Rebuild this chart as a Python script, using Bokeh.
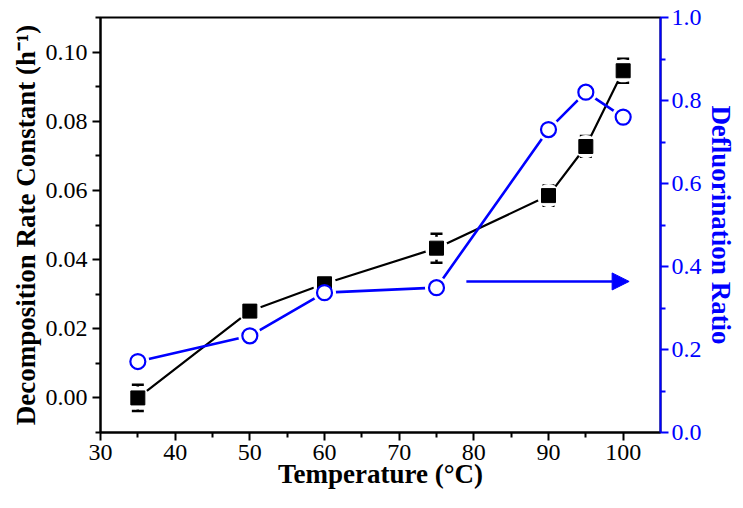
from bokeh.plotting import figure
from bokeh.models import (Range1d, LinearAxis, Whisker, ColumnDataSource, Arrow,
                          NormalHead, TeeHead, FixedTicker, NumeralTickFormatter)
from bokeh.embed import file_html
from bokeh.resources import INLINE

# ---- data ----
temperature = [35, 50, 60, 75, 90, 95, 100]
rate_constant = [0.0000, 0.0251, 0.0330, 0.0433, 0.0585, 0.0727, 0.0946]
rate_error = [0.0038, 0.0012, 0.0012, 0.0042, 0.0029, 0.0030, 0.0035]
defluorination = [0.171, 0.233, 0.337, 0.349, 0.730, 0.820, 0.760]

x_ticks = [30, 40, 50, 60, 70, 80, 90, 100]
x_minor = [35, 45, 55, 65, 75, 85, 95]
left_ticks = [0.00, 0.02, 0.04, 0.06, 0.08, 0.10]
left_minor = [-0.01, 0.01, 0.03, 0.05, 0.07, 0.09, 0.11]
right_ticks = [0.0, 0.2, 0.4, 0.6, 0.8, 1.0]
right_minor = [0.1, 0.3, 0.5, 0.7, 0.9]

x_title = "Temperature (°C)"
left_title = "Decomposition Rate Constant (h⁻¹)"
right_title = "Defluorination Ratio"

arrow_x = [79.0, 100.8]
arrow_y = 0.364

BLUE = "#0000FF"
FONT = "Liberation Serif"

src = ColumnDataSource(dict(
    x=temperature,
    k=rate_constant,
    upper=[v + e for v, e in zip(rate_constant, rate_error)],
    lower=[v - e for v, e in zip(rate_constant, rate_error)],
    d=defluorination,
))

p = figure(width=743, height=508, output_backend="svg", toolbar_location=None,
           x_range=Range1d(30, 105), y_range=Range1d(-0.01, 0.11),
           min_border_left=100, min_border_right=83, min_border_top=17, min_border_bottom=76)
p.extra_y_ranges = {"right": Range1d(0, 1.0)}
p.xgrid.visible = False
p.ygrid.visible = False
p.outline_line_color = "black"
p.outline_line_width = 2
p.background_fill_color = "white"
p.border_fill_color = "white"

def style_axis(ax, color, label_standoff, title_standoff):
    ax.axis_line_color = color
    ax.axis_line_width = 2
    ax.major_tick_line_color = color
    ax.major_tick_line_width = 2
    ax.minor_tick_line_color = color
    ax.minor_tick_line_width = 2
    ax.major_tick_in = 0
    ax.major_tick_out = 8
    ax.minor_tick_in = 0
    ax.minor_tick_out = 5
    ax.major_label_text_font = FONT
    ax.major_label_text_font_size = "24px"
    ax.major_label_text_color = color
    ax.major_label_standoff = label_standoff
    ax.axis_label_text_font = FONT
    ax.axis_label_text_font_size = "27px"
    ax.axis_label_text_font_style = "bold"
    ax.axis_label_text_color = color
    ax.axis_label_standoff = title_standoff

xa = p.xaxis[0]
style_axis(xa, "black", 4, -4)
xa.ticker = FixedTicker(ticks=x_ticks, minor_ticks=x_minor)
xa.formatter = NumeralTickFormatter(format="0")
xa.axis_label = x_title

ya = p.yaxis[0]
style_axis(ya, "black", 5, 2)
ya.ticker = FixedTicker(ticks=left_ticks, minor_ticks=left_minor)
ya.formatter = NumeralTickFormatter(format="0.00")
ya.axis_label = left_title

ra = LinearAxis(y_range_name="right")
style_axis(ra, BLUE, 3, 1)
ra.ticker = FixedTicker(ticks=right_ticks, minor_ticks=right_minor)
ra.formatter = NumeralTickFormatter(format="0.0")
ra.axis_label = right_title
p.add_layout(ra, "right")

# black series line + gaps
p.line("x", "k", source=src, line_color="black", line_width=2.2)
p.scatter("x", "k", source=src, marker="circle", size=23, fill_color="white", line_color=None)
# blue series line + gaps
p.line("x", "d", source=src, y_range_name="right", line_color=BLUE, line_width=2.6)
p.scatter("x", "d", source=src, y_range_name="right", marker="circle", size=23,
          fill_color="white", line_color=None)

# error bars and markers
w = Whisker(source=src, base="x", upper="upper", lower="lower",
            line_color="black", line_width=2.5,
            upper_head=TeeHead(size=12, line_width=2.5, line_color="black"),
            lower_head=TeeHead(size=12, line_width=2.5, line_color="black"))
p.add_layout(w)
p.scatter("x", "k", source=src, marker="square", size=14, fill_color="black", line_color="black")
p.scatter("x", "d", source=src, y_range_name="right", marker="circle", size=15,
          fill_color="white", line_color=BLUE, line_width=2.2)

p.add_layout(Arrow(end=NormalHead(size=17, fill_color=BLUE, line_color=BLUE),
                   x_start=arrow_x[0], y_start=arrow_y, x_end=arrow_x[1], y_end=arrow_y,
                   y_range_name="right", line_color=BLUE, line_width=2.6))

open("out.html", "w").write(file_html(p, INLINE))
